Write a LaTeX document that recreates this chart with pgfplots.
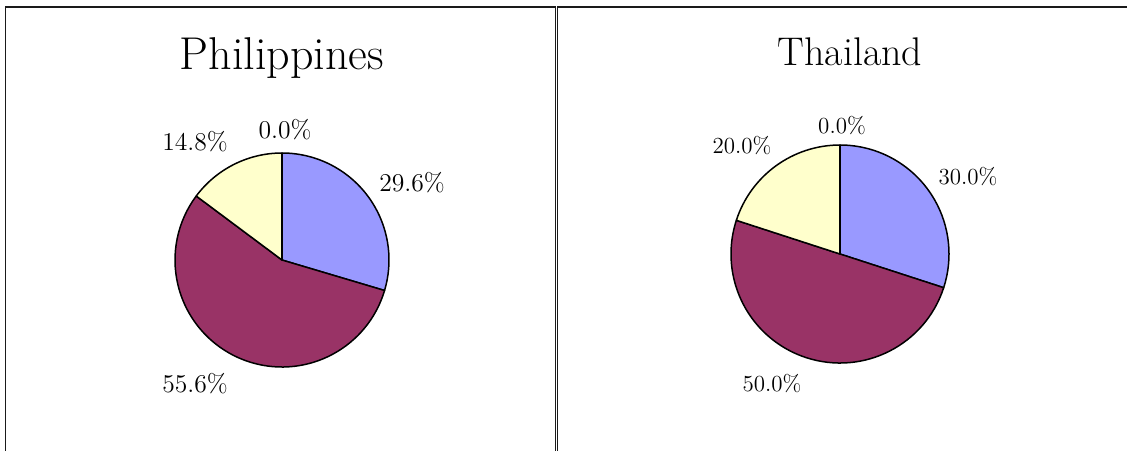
\documentclass[border=0pt]{standalone}
\usepackage{pgfplots}
\pgfplotsset{compat=1.18}
\definecolor{pblue}{HTML}{9999FF}
\definecolor{pmaroon}{HTML}{993366}
\definecolor{pyellow}{HTML}{FFFFCC}
\definecolor{frame}{HTML}{1A1A1A}
% Data (percent)
\def\PhA{29.6}\def\PhB{55.6}\def\PhC{14.8}\def\PhD{0.0}
\def\ThA{30.0}\def\ThB{50.0}\def\ThC{20.0}\def\ThD{0.0}
\begin{document}
\begin{tikzpicture}
\pgfmathsetmacro\PhAe{90-3.6*\PhA}
\pgfmathsetmacro\PhBe{\PhAe-3.6*\PhB}
\pgfmathsetmacro\PhCe{\PhBe-3.6*\PhC}
\pgfmathsetmacro\ThAe{90-3.6*\ThA}
\pgfmathsetmacro\ThBe{\ThAe-3.6*\ThB}
\pgfmathsetmacro\ThCe{\ThBe-3.6*\ThC}
\begin{axis}[
  x=0.5pt, y=0.5pt, scale only axis, hide axis, clip=false,
  xmin=0, xmax=1127, ymin=0, ymax=450,
  at={(0,0)}, anchor=origin]
% frames
\draw[line width=0.9pt, frame] (axis cs:5.5,-10) -- (axis cs:5.5,443) -- (axis cs:555.5,443) -- (axis cs:555.5,-10);
\draw[line width=0.9pt, frame] (axis cs:557.5,-10) -- (axis cs:557.5,443) -- (axis cs:1140,443);
% Philippines pie, centre (282,190), r=107px
\filldraw[fill=pblue, draw=black, line width=0.75pt, line join=round]
  (axis cs:282,190) -- ++(90:53.5pt) arc[start angle=90, end angle=\PhAe, radius=53.5pt] -- cycle;
\filldraw[fill=pmaroon, draw=black, line width=0.75pt, line join=round]
  (axis cs:282,190) -- ++(\PhAe:53.5pt) arc[start angle=\PhAe, end angle=\PhBe, radius=53.5pt] -- cycle;
\filldraw[fill=pyellow, draw=black, line width=0.75pt, line join=round]
  (axis cs:282,190) -- ++(\PhBe:53.5pt) arc[start angle=\PhBe, end angle=\PhCe, radius=53.5pt] -- cycle;
\draw[black, line width=0.75pt] (axis cs:282,190) -- ++(90:53.5pt);
% Thailand pie, centre (840,196), r=109px
\filldraw[fill=pblue, draw=black, line width=0.75pt, line join=round]
  (axis cs:840,196) -- ++(90:54.5pt) arc[start angle=90, end angle=\ThAe, radius=54.5pt] -- cycle;
\filldraw[fill=pmaroon, draw=black, line width=0.75pt, line join=round]
  (axis cs:840,196) -- ++(\ThAe:54.5pt) arc[start angle=\ThAe, end angle=\ThBe, radius=54.5pt] -- cycle;
\filldraw[fill=pyellow, draw=black, line width=0.75pt, line join=round]
  (axis cs:840,196) -- ++(\ThBe:54.5pt) arc[start angle=\ThBe, end angle=\ThCe, radius=54.5pt] -- cycle;
\draw[black, line width=0.75pt] (axis cs:840,196) -- ++(90:54.5pt);
% titles
\node[font=\fontsize{23}{27}\selectfont] at (axis cs:282,392) {Philippines};
\node[font=\fontsize{20}{24}\selectfont] at (axis cs:850,398) {Thailand};
% labels Philippines
\begin{scope}[every node/.style={font=\fontsize{12.8}{15}\selectfont, inner sep=0pt}]
\node at (axis cs:412,267) {\PhA\%};
\node at (axis cs:195,66) {\PhB\%};
\node at (axis cs:195,308) {\PhC\%};
\node at (axis cs:285,320) {\PhD\%};
\end{scope}
\begin{scope}[every node/.style={font=\fontsize{11.5}{14}\selectfont, inner sep=0pt}]
\node at (axis cs:968,273) {\ThA\%};
\node at (axis cs:772,66) {\ThB\%};
\node at (axis cs:742,304) {\ThC\%};
\node at (axis cs:842,324) {\ThD\%};
\end{scope}
\end{axis}
\pgfresetboundingbox
\path (0,0) rectangle (563.5pt,225pt);
\end{tikzpicture}
\end{document}
